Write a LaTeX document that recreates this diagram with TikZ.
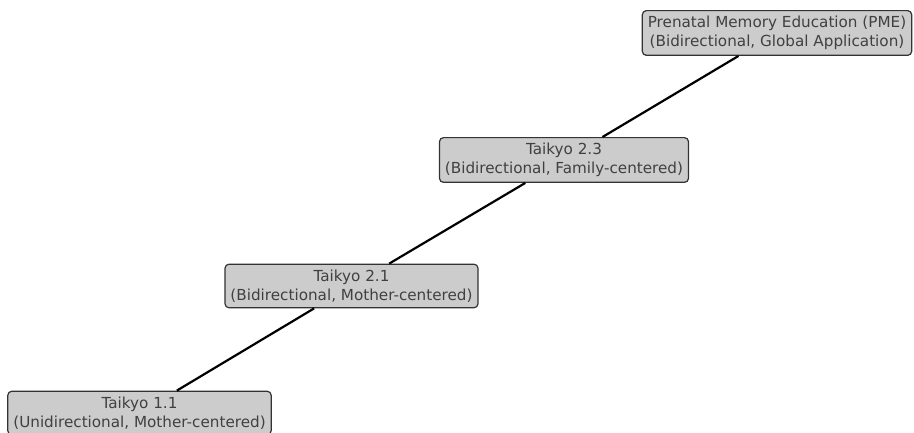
\documentclass[tikz,border=0pt]{standalone}
\usepackage{fontspec}
\setmainfont{DejaVu Sans}

\begin{document}
\begin{tikzpicture}[x=1pt, y=1pt,
  stage/.style={draw=black!80, fill=black!20, rounded corners=4pt, line width=1.2pt,
    text=black!75, align=center, font=\fontsize{15.2}{19}\selectfont,
    inner xsep=5.5pt, inner ysep=5.5pt}]
\useasboundingbox (0,0) rectangle (914,433);
\node[stage] (pme) at (777,400) {Prenatal Memory Education (PME)\\(Bidirectional, Global Application)};
\node[stage] (t23) at (564,273) {Taikyo 2.3\\(Bidirectional, Family-centered)};
\node[stage] (t21) at (351.5,147) {Taikyo 2.1\\(Bidirectional, Mother-centered)};
\node[stage] (t11) at (139.5,20) {Taikyo 1.1\\(Unidirectional, Mother-centered)};
\draw[line width=2.2pt] (t11) -- (t21);
\draw[line width=2.2pt] (t21) -- (t23);
\draw[line width=2.2pt] (t23) -- (pme);
\end{tikzpicture}
\end{document}
